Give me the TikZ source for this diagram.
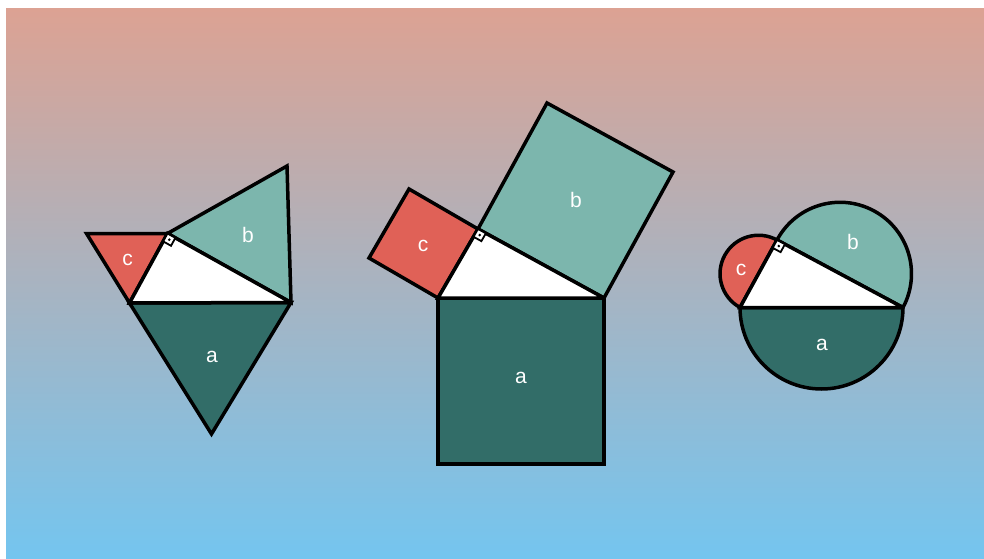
\documentclass[tikz,border=0pt]{standalone}
\usepackage{fontspec}
\setmainfont{Liberation Sans}
\usetikzlibrary{calc}
\definecolor{bgtop}{RGB}{220,162,147}
\definecolor{bgbot}{RGB}{116,197,239}
\definecolor{cred}{RGB}{224,97,87}
\definecolor{bteal}{RGB}{124,182,173}
\definecolor{adark}{RGB}{50,109,104}
\begin{document}
\begin{tikzpicture}[x=1pt,y=1pt,
  piece/.style={draw=black,line width=3.5pt,line join=miter,miter limit=2.5},
  cpiece/.style={piece,fill=cred},
  bpiece/.style={piece,fill=bteal},
  apiece/.style={piece,fill=adark},
  tri/.style={piece,fill=white},
  ramark/.style={draw=black,line width=1.8pt,fill=white},
  lbl/.style={text=white,font=\fontsize{21}{24}\selectfont,inner sep=0pt}]
\useasboundingbox (0,0) rectangle (984,558);
\shade[top color=bgtop,bottom color=bgbot] (6,0) rectangle (984,549);

% ---------- left figure: triangles ----------
\coordinate (L1) at (129.5,255);
\coordinate (R1) at (291,255.5);
\coordinate (V1) at (167.5,324.5);
\coordinate (C1) at (86.5,324.5);
\coordinate (B1) at (287,392);
\coordinate (A1) at (211.5,124);
\draw[apiece] (L1) -- (R1) -- (A1) -- cycle;
\draw[cpiece] (L1) -- (V1) -- (C1) -- cycle;
\draw[bpiece] (V1) -- (R1) -- (B1) -- cycle;
\draw[tri] (L1) -- (V1) -- (R1) -- cycle;
\coordinate (m1a) at ($(V1)!9pt!(L1)$);
\coordinate (m1b) at ($(V1)!9pt!(R1)$);
\coordinate (m1c) at ($(m1a)+(m1b)-(V1)$);
\draw[ramark] (V1) -- (m1a) -- (m1c) -- (m1b) -- cycle;
\fill ($(V1)!0.5!(m1c)$) circle (1.4);
\node[lbl] (c1) at (127.5,298) {c};
\node[lbl] (b1) at (248,323) {b};
\node[lbl] (a1) at (212,201) {a};

% ---------- middle figure: squares ----------
\coordinate (L2) at (438,260);
\coordinate (R2) at (604,260);
\coordinate (V2) at (478,329);
\coordinate (c2L) at ($(L2)!1!90:(V2)$);
\coordinate (c2V) at ($(V2)!1!-90:(L2)$);
\coordinate (b2V) at ($(V2)!1!90:(R2)$);
\coordinate (b2R) at ($(R2)!1!-90:(V2)$);
\coordinate (a2L) at ($(L2)!1!-90:(R2)$);
\coordinate (a2R) at ($(R2)!1!90:(L2)$);
\draw[apiece] (L2) -- (R2) -- (a2R) -- (a2L) -- cycle;
\draw[cpiece] (L2) -- (V2) -- (c2V) -- (c2L) -- cycle;
\draw[bpiece] (V2) -- (R2) -- (b2R) -- (b2V) -- cycle;
\draw[tri] (L2) -- (V2) -- (R2) -- cycle;
\coordinate (m2a) at ($(V2)!9pt!(L2)$);
\coordinate (m2b) at ($(V2)!9pt!(R2)$);
\coordinate (m2c) at ($(m2a)+(m2b)-(V2)$);
\draw[ramark] (V2) -- (m2a) -- (m2c) -- (m2b) -- cycle;
\fill ($(V2)!0.5!(m2c)$) circle (1.4);
\node[lbl] (c2) at (423,312) {c};
\node[lbl] (b2) at (576,358) {b};
\node[lbl] (a2) at (521,180) {a};

% ---------- right figure: semicircles ----------
\coordinate (L3) at (740,250.5);
\coordinate (R3) at (903,250.5);
\coordinate (V3) at (777,318);
\draw[apiece] let \p1=($(R3)-(L3)$), \n2={veclen(\x1,\y1)/2} in
  (L3) arc[start angle=180, delta angle=180, radius=\n2] -- cycle;
\draw[cpiece] let \p1=($(V3)-(L3)$), \n1={atan2(\y1,\x1)}, \n2={veclen(\x1,\y1)/2} in
  (V3) arc[start angle=\n1, delta angle=180, radius=\n2] -- cycle;
\draw[bpiece] let \p1=($(R3)-(V3)$), \n1={atan2(\y1,\x1)}, \n2={veclen(\x1,\y1)/2} in
  (R3) arc[start angle=\n1, delta angle=180, radius=\n2] -- cycle;
\draw[tri] (L3) -- (V3) -- (R3) -- cycle;
\coordinate (m3a) at ($(V3)!9pt!(L3)$);
\coordinate (m3b) at ($(V3)!9pt!(R3)$);
\coordinate (m3c) at ($(m3a)+(m3b)-(V3)$);
\draw[ramark] (V3) -- (m3a) -- (m3c) -- (m3b) -- cycle;
\fill ($(V3)!0.5!(m3c)$) circle (1.4);
\node[lbl] (c3) at (741,288) {c};
\node[lbl] (b3) at (853,316) {b};
\node[lbl] (a3) at (822,213) {a};
\end{tikzpicture}
\end{document}
